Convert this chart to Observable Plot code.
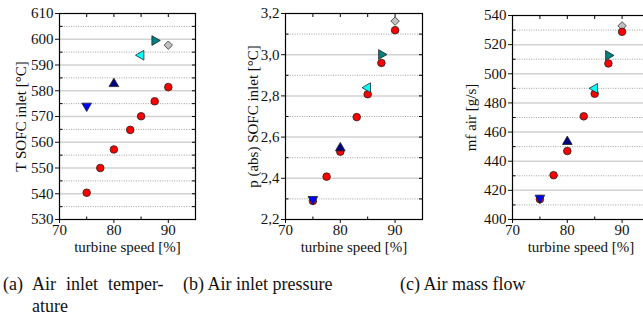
<!DOCTYPE html>
<html>
<head>
<meta charset="utf-8">
<script src="https://cdn.jsdelivr.net/npm/d3@7"></script>
<script src="https://cdn.jsdelivr.net/npm/@observablehq/plot@0.6"></script>
<style>
  html, body { margin: 0; padding: 0; background: #fff; }
  #wrap { position: relative; width: 643px; height: 327px; overflow: hidden; font-family: "Liberation Serif", "DejaVu Serif", serif; }
  .panel { position: absolute; top: 0; }
  .cap { position: absolute; font-size: 18px; color: #111; line-height: 17px; white-space: nowrap; }
</style>
</head>
<body>
<div id="wrap"></div>
<script>
// ---- data ----
const speed = [75, 77.5, 80, 83, 85, 87.5, 90];
const tempRed = [540.4, 550, 557.2, 564.8, 570.1, 575.9, 581.4];
const presRed = [2.29, 2.408, 2.529, 2.697, 2.808, 2.96, 3.119];
const flowRed = [413.9, 430.4, 447, 470.8, 486.3, 507.1, 528.8];

const refSpeed = [75, 80, 85, 87.5, 90];
const refShape = ["down", "up", "left", "right", "diamond"];
const refColor = ["#0000ff", "#000080", "#00ffff", "#008080", "#c0c0c0"];
const tempRef = [574.1, 582.7, 593.8, 599.5, 597.7];
const presRef = [2.298, 2.547, 2.84, 3.001, 3.163];
const flowRef = [414.8, 453.4, 490, 512.6, 532.9];

const xTicks = [70, 80, 90];
const xMinor = [75, 85];
const xLabel = "turbine speed [%]";
const yLabels = ["T SOFC inlet [°C]", "p (abs) SOFC inlet [°C]", "mf air [g/s]"];
const captions = ["(a) Air inlet temper-", "ature", "(b) Air inlet pressure", "(c) Air mass flow"];

// ---- symbols ----
function tri(angle) {
  return {draw(ctx, size) {
    const R = Math.sqrt(size * 4 / (3 * Math.sqrt(3)));
    for (let i = 0; i < 3; i++) {
      const a = angle + i * 2 * Math.PI / 3;
      const px = R * Math.cos(a), py = R * Math.sin(a);
      if (i === 0) ctx.moveTo(px, py); else ctx.lineTo(px, py);
    }
    ctx.closePath();
  }};
}
const symbols = {
  down: tri(Math.PI / 2), up: tri(-Math.PI / 2), left: tri(Math.PI), right: tri(0), diamond: "diamond2"
};
function tickSym(dx, dy) {
  return {draw(ctx) { ctx.moveTo(0, 0); ctx.lineTo(dx, dy); }};
}

function panel(opts) {
  const {left, width, mL, mR, mT, mB, yDom, yMajor, yMinor, yFmt, red, ref, label, labelOffset} = opts;
  const height = 262;
  const allY = yMajor.concat(yMinor);
  const allX = [70, 75, 80, 85, 90, 95];
  const xMax = 95, xMin = 70;
  const marks = [
    Plot.ruleY(yMinor, {stroke: "#8a8a8a", strokeWidth: 0.8, strokeDasharray: "1,1.4"}),
    Plot.ruleY(yMajor.filter(v => v > yDom[0] && v < yDom[1]), {stroke: "#d2d2d2", strokeWidth: 1.5}),
    // inward ticks
    Plot.dot(yMinor, {x: xMin, y: d => d, symbol: tickSym(3, 0), stroke: "black", fill: "none", strokeWidth: 1}),
    Plot.dot(allY, {x: xMax, y: d => d, symbol: tickSym(-3.5, 0), stroke: "black", fill: "none", strokeWidth: 1}),
    Plot.dot(allX, {x: d => d, y: yDom[1], symbol: tickSym(0, 3.5), stroke: "black", fill: "none", strokeWidth: 1}),
    Plot.dot(xMinor, {x: d => d, y: yDom[0], symbol: tickSym(0, -3), stroke: "black", fill: "none", strokeWidth: 1}),
    Plot.frame({stroke: "black", strokeWidth: 1.2}),
    // diamond first
    Plot.dot([4], {x: i => refSpeed[i], y: i => ref[i], symbol: symbols[refShape[4]], fill: refColor[4], stroke: "#333", strokeWidth: 0.8, r: 3.8}),
    Plot.dot(speed.map((s, i) => i), {x: i => speed[i], y: i => red[i], r: 3.8, fill: "#ff0000", stroke: "#222", strokeWidth: 0.8})
  ];
  for (let i = 0; i < 4; i++) {
    marks.push(Plot.dot([i], {x: j => refSpeed[j], y: j => ref[j], symbol: symbols[refShape[i]], fill: refColor[i], stroke: "#222", strokeWidth: 0.8, r: 3.6}));
  }
  const svg = Plot.plot({
    width, height,
    marginLeft: mL, marginRight: mR, marginTop: mT, marginBottom: mB,
    style: {fontFamily: "'Liberation Serif', serif", fontSize: "15px", color: "#111", background: "transparent"},
    x: {domain: [70, 95], ticks: xTicks, tickSize: 4, tickPadding: 1, label: xLabel, labelAnchor: "center", labelOffset: 32, labelArrow: "none"},
    y: {domain: yDom, ticks: yMajor, tickSize: 4, tickPadding: 2, tickFormat: yFmt, label, labelAnchor: "center", labelOffset, labelArrow: "none"},
    marks
  });
  svg.classList.add("panel");
  svg.style.left = left + "px";
  svg.style.position = "absolute";
  svg.style.top = "0px";
  return svg;
}

const wrap = document.getElementById("wrap");
const fmtInt = d => String(d);
const fmtComma = d => d.toFixed(1).replace(".", ",");

wrap.appendChild(panel({
  left: 0, width: 215, mL: 59, mR: 20, mT: 13, mB: 43,
  yDom: [530, 610], yMajor: d3.range(530, 611, 10), yMinor: d3.range(535, 610, 10), yFmt: fmtInt,
  red: tempRed, ref: tempRef, label: yLabels[0], labelOffset: 44
}));
wrap.appendChild(panel({
  left: 215, width: 215, mL: 70, mR: 8, mT: 13, mB: 43,
  yDom: [2.2, 3.2], yMajor: [2.2, 2.4, 2.6, 2.8, 3.0, 3.2], yMinor: [2.3, 2.5, 2.7, 2.9, 3.1], yFmt: fmtComma,
  red: presRed, ref: presRef, label: yLabels[1], labelOffset: 38
}));
wrap.appendChild(panel({
  left: 430, width: 230, mL: 82, mR: 11, mT: 15, mB: 43,
  yDom: [400, 540], yMajor: d3.range(400, 541, 20), yMinor: d3.range(410, 540, 20), yFmt: fmtInt,
  red: flowRed, ref: flowRef, label: yLabels[2], labelOffset: 47
}));

function cap(text, x, y, ws) {
  const d = document.createElement("div");
  d.className = "cap";
  d.textContent = text;
  d.style.left = x + "px";
  d.style.top = y + "px";
  if (ws) d.style.wordSpacing = ws + "px";
  wrap.appendChild(d);
}
cap(captions[0], 3, 276, 5.5);
cap(captions[1], 32, 298);
cap(captions[2], 183, 276);
cap(captions[3], 400, 276);
</script>
</body>
</html>
